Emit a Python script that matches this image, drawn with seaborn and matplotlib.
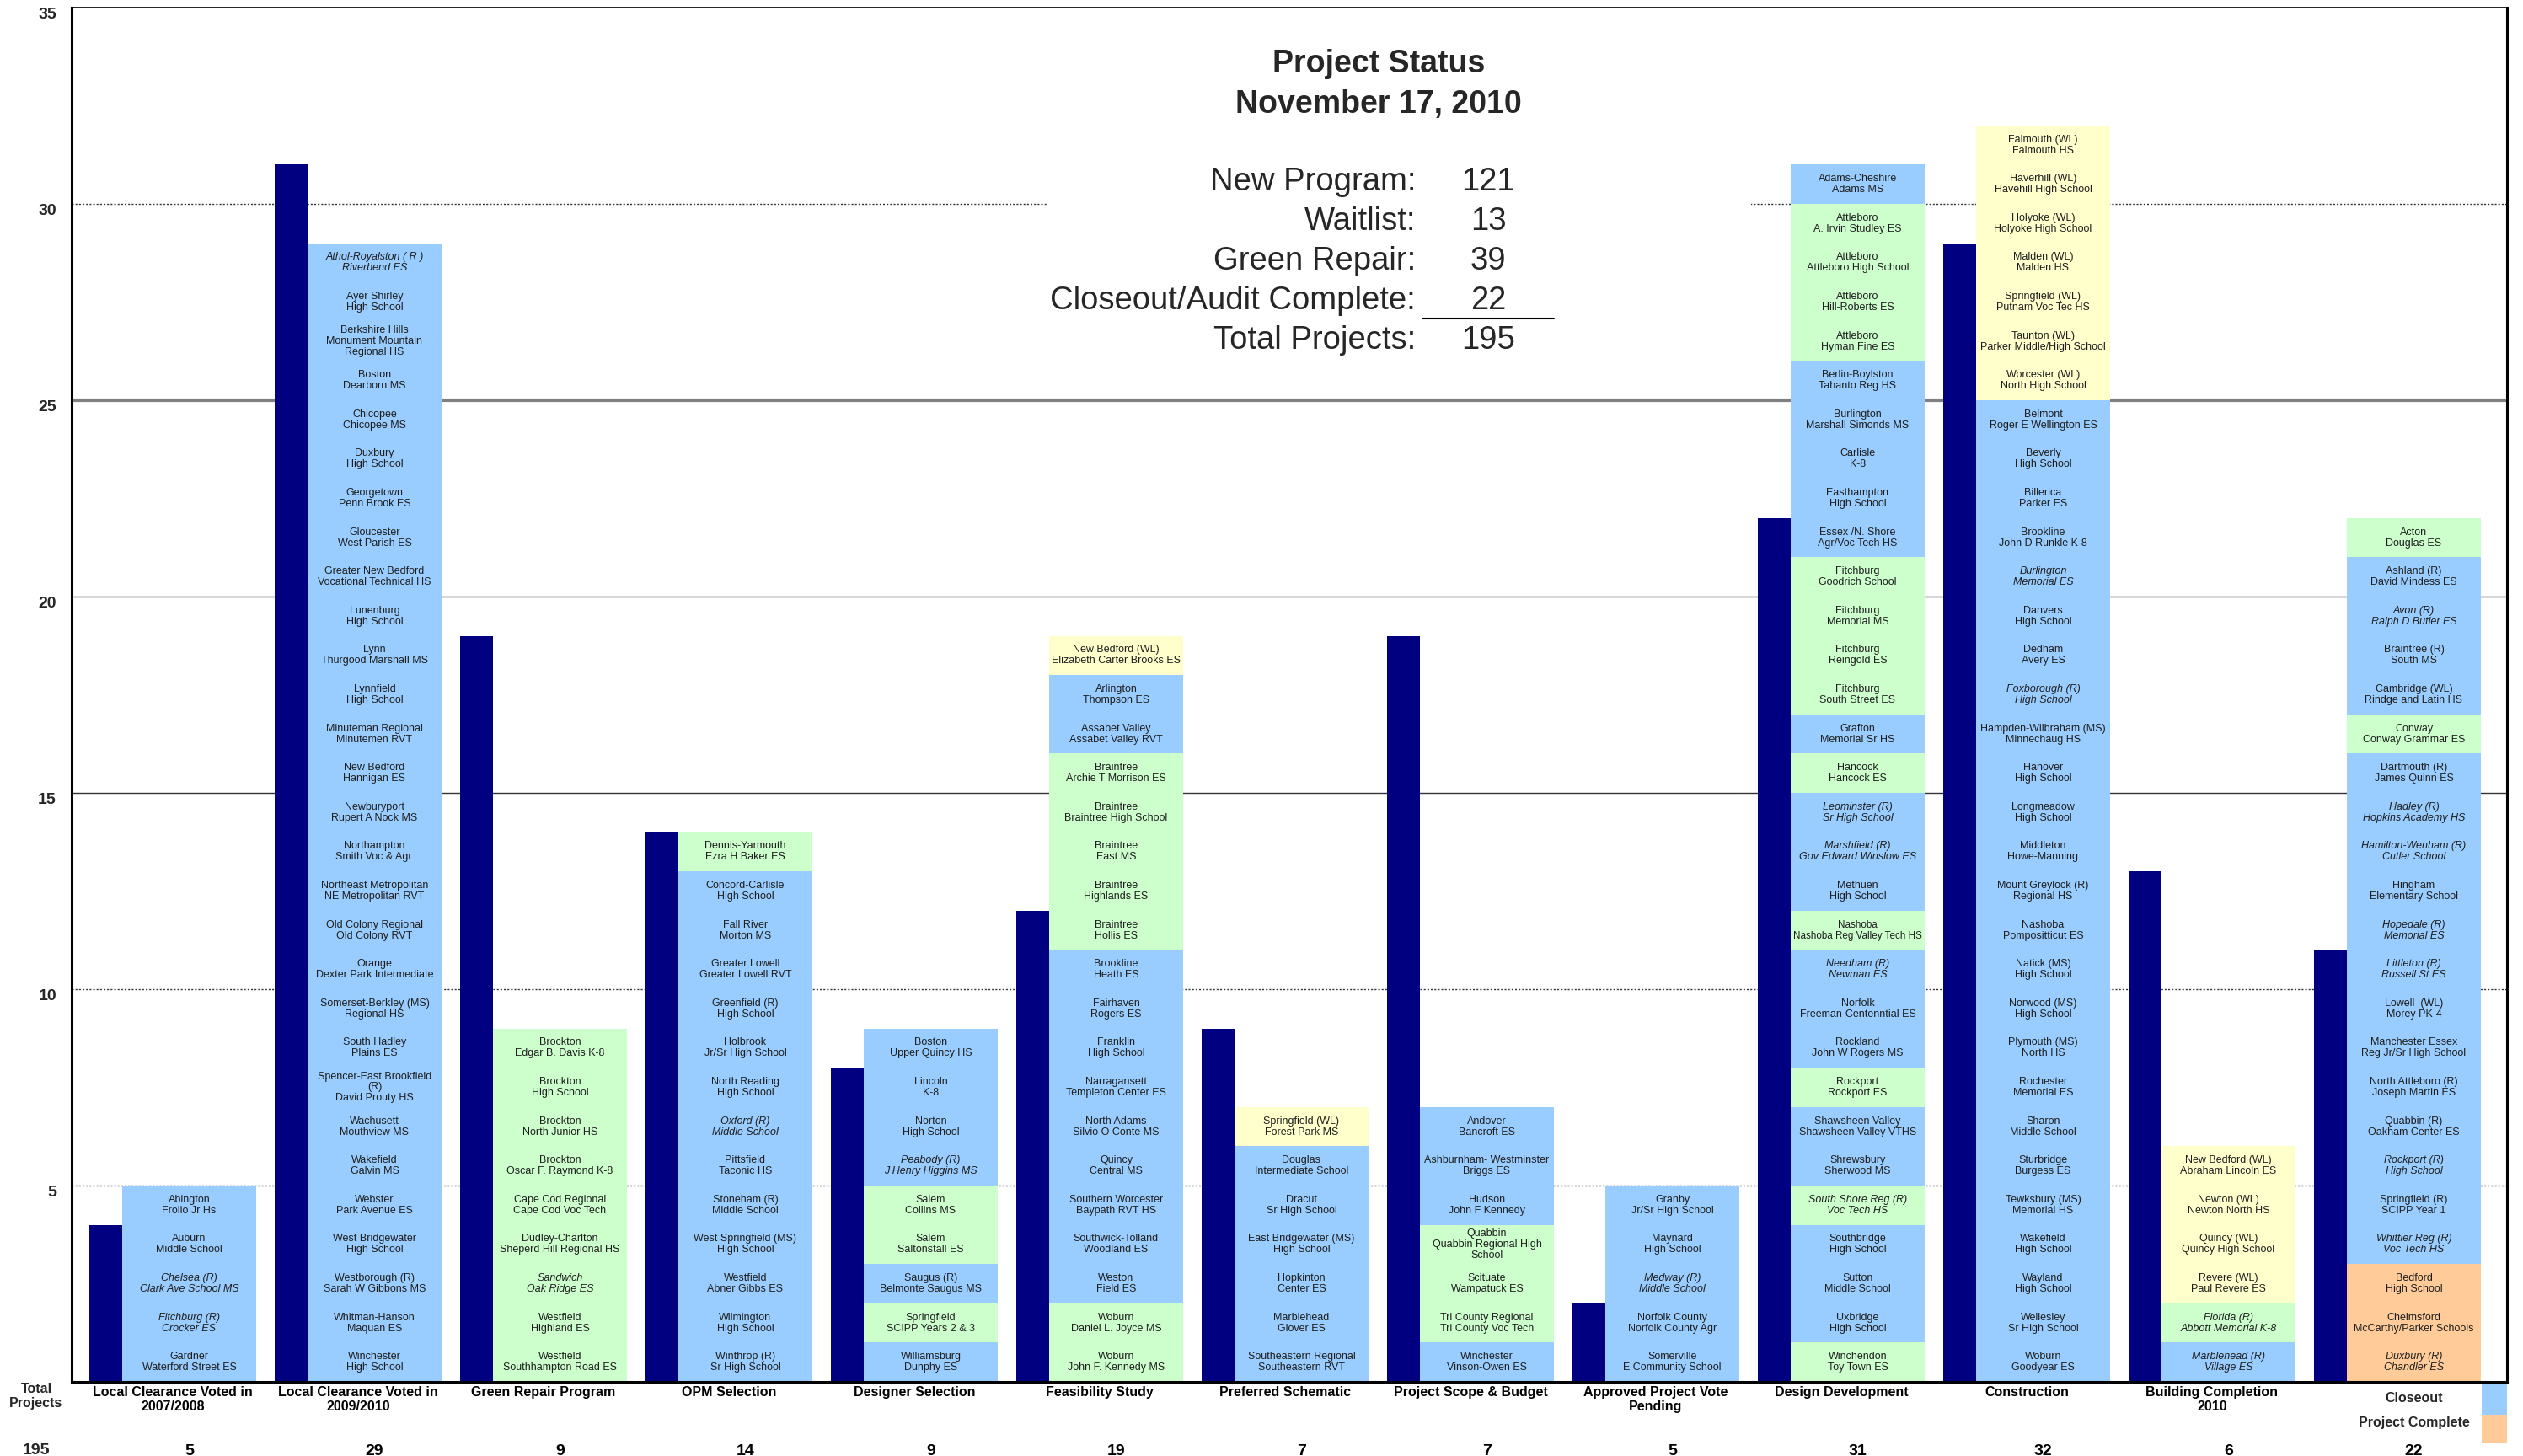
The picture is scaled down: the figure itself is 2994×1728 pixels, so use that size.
import numpy as np
import matplotlib
matplotlib.use("Agg")
import matplotlib.pyplot as plt
from matplotlib.patches import Rectangle
from matplotlib.lines import Line2D
import seaborn as sns

# stages along the bottom
stages = ["Local Clearance Voted in\n2007/2008", "Local Clearance Voted in\n2009/2010",
          "Green Repair Program", "OPM Selection", "Designer Selection",
          "Feasibility Study", "Preferred Schematic", "Project Scope & Budget",
          "Approved Project Vote\nPending", "Design Development", "Construction",
          "Building Completion\n2010", "Closeout"]

# dark bars (count per stage, previous report)
prior_counts = [4, 31, 19, 14, 8, 12, 9, 19, 2, 22, 29, 13, 11]

# projects in each stage, top of the stack first; leading '*' = italic
local_0708 = ["Abington\nFrolio Jr Hs", "Auburn\nMiddle School", "*Chelsea (R)\nClark Ave School MS",
              "*Fitchburg (R)\nCrocker ES", "Gardner\nWaterford Street ES"]
local_0910 = ["*Athol-Royalston ( R )\nRiverbend ES", "Ayer Shirley\nHigh School",
              "Berkshire Hills\nMonument Mountain\nRegional HS", "Boston\nDearborn MS",
              "Chicopee\nChicopee MS", "Duxbury\nHigh School", "Georgetown\nPenn Brook ES",
              "Gloucester\nWest Parish ES", "Greater New Bedford\nVocational Technical HS",
              "Lunenburg\nHigh School", "Lynn\nThurgood Marshall MS", "Lynnfield\nHigh School",
              "Minuteman Regional\nMinutemen RVT", "New Bedford\nHannigan ES",
              "Newburyport\nRupert A Nock MS", "Northampton\nSmith Voc & Agr.",
              "Northeast Metropolitan\nNE Metropolitan RVT", "Old Colony Regional\nOld Colony RVT",
              "Orange\nDexter Park Intermediate", "Somerset-Berkley (MS)\nRegional HS",
              "South Hadley\nPlains ES", "Spencer-East Brookfield\n(R)\nDavid Prouty HS",
              "Wachusett\nMouthview MS", "Wakefield\nGalvin MS", "Webster\nPark Avenue ES",
              "West Bridgewater\nHigh School", "Westborough (R)\nSarah W Gibbons MS",
              "Whitman-Hanson\nMaquan ES", "Winchester\nHigh School"]
green_repair = ["Brockton\nEdgar B. Davis K-8", "Brockton\nHigh School", "Brockton\nNorth Junior HS",
                "Brockton\nOscar F. Raymond K-8", "Cape Cod Regional\nCape Cod Voc Tech",
                "Dudley-Charlton\nSheperd Hill Regional HS", "*Sandwich\nOak Ridge ES",
                "Westfield\nHighland ES", "Westfield\nSouthhampton Road ES"]
opm = ["Dennis-Yarmouth\nEzra H Baker ES", "Concord-Carlisle\nHigh School", "Fall River\nMorton MS",
       "Greater Lowell\nGreater Lowell RVT", "Greenfield (R)\nHigh School", "Holbrook\nJr/Sr High School",
       "North Reading\nHigh School", "*Oxford (R)\nMiddle School", "Pittsfield\nTaconic HS",
       "Stoneham (R)\nMiddle School", "West Springfield (MS)\nHigh School", "Westfield\nAbner Gibbs ES",
       "Wilmington\nHigh School", "Winthrop (R)\nSr High School"]
designer = ["Boston\nUpper Quincy HS", "Lincoln\nK-8", "Norton\nHigh School",
            "*Peabody (R)\nJ Henry Higgins MS", "Salem\nCollins MS", "Salem\nSaltonstall ES",
            "Saugus (R)\nBelmonte Saugus MS", "Springfield\nSCIPP Years 2 & 3", "Williamsburg\nDunphy ES"]
feasibility = ["New Bedford (WL)\nElizabeth Carter Brooks ES", "Arlington\nThompson ES",
               "Assabet Valley\nAssabet Valley RVT", "Braintree\nArchie T Morrison ES",
               "Braintree\nBraintree High School", "Braintree\nEast MS", "Braintree\nHighlands ES",
               "Braintree\nHollis ES", "Brookline\nHeath ES", "Fairhaven\nRogers ES",
               "Franklin\nHigh School", "Narragansett\nTempleton Center ES",
               "North Adams\nSilvio O Conte MS", "Quincy\nCentral MS",
               "Southern Worcester\nBaypath RVT HS", "Southwick-Tolland\nWoodland ES",
               "Weston\nField ES", "Woburn\nDaniel L. Joyce MS", "Woburn\nJohn F. Kennedy MS"]
schematic = ["Springfield (WL)\nForest Park MS", "Douglas\nIntermediate School", "Dracut\nSr High School",
             "East Bridgewater (MS)\nHigh School", "Hopkinton\nCenter ES", "Marblehead\nGlover ES",
             "Southeastern Regional\nSoutheastern RVT"]
scope_budget = ["Andover\nBancroft ES", "Ashburnham- Westminster\nBriggs ES", "Hudson\nJohn F Kennedy",
                "Quabbin\nQuabbin Regional High\nSchool", "Scituate\nWampatuck ES",
                "Tri County Regional\nTri County Voc Tech", "Winchester\nVinson-Owen ES"]
vote_pending = ["Granby\nJr/Sr High School", "Maynard\nHigh School", "*Medway (R)\nMiddle School",
                "Norfolk County\nNorfolk County Agr", "Somerville\nE Community School"]
design_dev = ["Adams-Cheshire\nAdams MS", "Attleboro\nA. Irvin Studley ES", "Attleboro\nAttleboro High School",
              "Attleboro\nHill-Roberts ES", "Attleboro\nHyman Fine ES", "Berlin-Boylston\nTahanto Reg HS",
              "Burlington\nMarshall Simonds MS", "Carlisle\nK-8", "Easthampton\nHigh School",
              "Essex /N. Shore\nAgr/Voc Tech HS", "Fitchburg\nGoodrich School", "Fitchburg\nMemorial MS",
              "Fitchburg\nReingold ES", "Fitchburg\nSouth Street ES", "Grafton\nMemorial Sr HS",
              "Hancock\nHancock ES", "*Leominster (R)\nSr High School", "*Marshfield (R)\nGov Edward Winslow ES",
              "Methuen\nHigh School", "Nashoba\nNashoba Reg Valley Tech HS", "*Needham (R)\nNewman ES",
              "Norfolk\nFreeman-Centenntial ES", "Rockland\nJohn W Rogers MS", "Rockport\nRockport ES",
              "Shawsheen Valley\nShawsheen Valley VTHS", "Shrewsbury\nSherwood MS",
              "*South Shore Reg (R)\nVoc Tech HS", "Southbridge\nHigh School", "Sutton\nMiddle School",
              "Uxbridge\nHigh School", "Winchendon\nToy Town ES"]
construction = ["Falmouth (WL)\nFalmouth HS", "Haverhill (WL)\nHavehill High School",
                "Holyoke (WL)\nHolyoke High School", "Malden (WL)\nMalden HS",
                "Springfield (WL)\nPutnam Voc Tec HS", "Taunton (WL)\nParker Middle/High School",
                "Worcester (WL)\nNorth High School", "Belmont\nRoger E Wellington ES", "Beverly\nHigh School",
                "Billerica\nParker ES", "Brookline\nJohn D Runkle K-8", "*Burlington\nMemorial ES",
                "Danvers\nHigh School", "Dedham\nAvery ES", "*Foxborough (R)\nHigh School",
                "Hampden-Wilbraham (MS)\nMinnechaug HS", "Hanover\nHigh School", "Longmeadow\nHigh School",
                "Middleton\nHowe-Manning", "Mount Greylock (R)\nRegional HS", "Nashoba\nPompositticut ES",
                "Natick (MS)\nHigh School", "Norwood (MS)\nHigh School", "Plymouth (MS)\nNorth HS",
                "Rochester\nMemorial ES", "Sharon\nMiddle School", "Sturbridge\nBurgess ES",
                "Tewksbury (MS)\nMemorial HS", "Wakefield\nHigh School", "Wayland\nHigh School",
                "Wellesley\nSr High School", "Woburn\nGoodyear ES"]
completion_2010 = ["New Bedford (WL)\nAbraham Lincoln ES", "Newton (WL)\nNewton North HS",
                   "Quincy (WL)\nQuincy High School", "Revere (WL)\nPaul Revere ES",
                   "*Florida (R)\nAbbott Memorial K-8", "*Marblehead (R)\nVillage ES"]
closeout = ["Acton\nDouglas ES", "Ashland (R)\nDavid Mindess ES", "*Avon (R)\nRalph D Butler ES",
            "Braintree (R)\nSouth MS", "Cambridge (WL)\nRindge and Latin HS", "Conway\nConway Grammar ES",
            "Dartmouth (R)\nJames Quinn ES", "*Hadley (R)\nHopkins Academy HS",
            "*Hamilton-Wenham (R)\nCutler School", "Hingham\nElementary School",
            "*Hopedale (R)\nMemorial ES", "*Littleton (R)\nRussell St ES", "Lowell  (WL)\nMorey PK-4",
            "Manchester Essex\nReg Jr/Sr High School", "North Attleboro (R)\nJoseph Martin ES",
            "Quabbin (R)\nOakham Center ES", "*Rockport (R)\nHigh School", "Springfield (R)\nSCIPP Year 1",
            "*Whittier Reg (R)\nVoc Tech HS", "Bedford\nHigh School", "Chelmsford\nMcCarthy/Parker Schools",
            "*Duxbury (R)\nChandler ES"]

# status of each project (same order): N new program, G green repair, W waitlist, C closeout/audit complete
s_0708 = "NNNNN"
s_0910 = "NNNNNNNNNN" "NNNNNNNNNN" "NNNNNNNNN"
s_green = "GGGGGGGGG"
s_opm = "GNNNNNNNNNNNNN"
s_designer = "NNNNGGNGN"
s_feas = "WNNGGGGGNNNNNNNNNGG"
s_schem = "WNNNNNN"
s_scope = "NNNGGGN"
s_vote = "NNNNN"
s_dd = "NGGGGNNNNNGGGGNGNNNGNNNGNNGNNNG"
s_constr = "WWWWWWW" "NNNNNNNNNNNNNNNNNNNNNNNNN"
s_compl = "WWWWGN"
s_close = "GNNNNGNNNNNNNNNNNNNCCC"

projects = [local_0708, local_0910, green_repair, opm, designer, feasibility, schematic,
            scope_budget, vote_pending, design_dev, construction, completion_2010, closeout]
status = [s_0708, s_0910, s_green, s_opm, s_designer, s_feas, s_schem, s_scope, s_vote,
          s_dd, s_constr, s_compl, s_close]

summary_labels = ["New Program:", "Waitlist:", "Green Repair:", "Closeout/Audit Complete:", "Total Projects:"]
summary_values = [121, 13, 39, 22, 195]

yticks = [5, 10, 15, 20, 25, 30, 35]

colors = {"N": "#99CCFF", "G": "#CCFFCC", "W": "#FFFFCC", "C": "#FFCC99"}

sns.set_theme(style="white")
plt.rcParams["font.family"] = ["Liberation Sans", "DejaVu Sans"]

W, H = 2994, 1728
fig = plt.figure(figsize=(W / 100, H / 100), dpi=100)
ax = fig.add_axes([85 / W, 88 / H, 2890 / W, 1631 / H])

DARK_W = 0.177
BOX_W = 0.723

# grid lines first (under everything)
for y in yticks[:-1]:
    if y == 25:
        ax.axhline(y, color="#808080", lw=3, zorder=0.5)
    elif y in (15, 20):
        ax.axhline(y, color="#333333", lw=1, zorder=0.5)
    else:
        ax.axhline(y, color="#333333", lw=1, ls=(0, (1.5, 1.5)), zorder=0.5)

# white box behind the summary text
ax.add_patch(Rectangle((5.164, 26.2), 3.8, 8.6, facecolor="white", edgecolor="none", zorder=0.8))

# dark bars
x_dark = np.arange(len(stages)) + DARK_W / 2
sns.barplot(x=x_dark, y=prior_counts, native_scale=True, width=DARK_W, orient="x",
            color="#000080", saturation=1, linewidth=0, errorbar=None, ax=ax, zorder=2)

# stacked project cells
cell_texts = []
for i, (names, codes) in enumerate(zip(projects, status)):
    n = len(names)
    xc = i + DARK_W + BOX_W / 2
    levels = np.arange(n)[::-1]
    ax.bar(np.full(n, xc), np.ones(n), width=BOX_W, bottom=levels,
           color=[colors[c] for c in codes], linewidth=0, zorder=2)
    for lvl, name in zip(levels, names):
        t = ax.text(xc, lvl + 0.5, name.lstrip("*"), ha="center", va="center",
                    fontsize=9, color="#1e1e1e", linespacing=1.1, zorder=3,
                    style="italic" if name.startswith("*") else "normal")
        cell_texts.append(t)

    # stage name and total underneath
    tx = ax.get_xaxis_transform()
    if i < len(stages) - 1:
        ax.text(i + 0.45, -0.003, stages[i], transform=tx, ha="center", va="top",
                fontsize=11.5, fontweight="bold", linespacing=1.15, color="black")
    ax.text(xc, -0.0503, str(n), transform=tx, ha="center", va="center",
            fontsize=14, fontweight="bold", color="black")

ax.set_xlim(-0.0955, 13.041)
ax.set_ylim(0, 35)
ax.set_xticks([])
ax.set_xlabel("")
ax.set_ylabel("")
ax.set_yticks(yticks)
ax.set_yticklabels([str(v) for v in yticks], fontsize=14, fontweight="bold", va="top")
ax.tick_params(axis="y", length=0, pad=13)
for side, sp in ax.spines.items():
    sp.set_visible(True)
    sp.set_color("black")
    sp.set_linewidth(1.2 if side == "top" else 2.2)
    sp.set_zorder(4)

# last stage label doubles as the legend
fig.text(2865 / W, 1 - 1660 / H, "Closeout", ha="center", va="center",
         fontsize=11.5, fontweight="bold")
fig.text(2865 / W, 1 - 1689 / H, "Project Complete", ha="center", va="center",
         fontsize=11.5, fontweight="bold")
fig.add_artist(Rectangle((2945 / W, 1 - 1679 / H), 30 / W, 37 / H, facecolor=colors["N"], edgecolor="none"))
fig.add_artist(Rectangle((2945 / W, 1 - 1712 / H), 30 / W, 33 / H, facecolor=colors["C"], edgecolor="none"))

fig.text(43 / W, 1 - 1641 / H, "Total\nProjects", ha="center", va="top",
         fontsize=11.5, fontweight="bold", linespacing=1.2)
fig.text(43 / W, 1 - 1722 / H, str(sum(len(p) for p in projects)), ha="center", va="center",
         fontsize=14, fontweight="bold")

# title and summary
fig.text(1636 / W, 1 - 76 / H, "Project Status", ha="center", va="center", fontsize=27, fontweight="bold")
fig.text(1636 / W, 1 - 124 / H, "November 17, 2010", ha="center", va="center", fontsize=27, fontweight="bold")
for k, (lab, val) in enumerate(zip(summary_labels, summary_values)):
    yy = 1 - (216 + k * 47) / H
    fig.text(1680 / W, yy, lab, ha="right", va="center", fontsize=27.5)
    fig.text(1766 / W, yy, str(val), ha="center", va="center", fontsize=27.5)
fig.add_artist(Line2D([1688 / W, 1844 / W], [1 - 378 / H, 1 - 378 / H], color="black", lw=1.5))

# shrink cell labels that are wider than their box
fig.canvas.draw()
rend = fig.canvas.get_renderer()
box_px = BOX_W * ax.bbox.width / (13.041 + 0.0955) - 6
for t in cell_texts:
    w = t.get_window_extent(rend).width
    if w > box_px:
        t.set_fontsize(t.get_fontsize() * box_px / w)

fig.savefig("out.png", dpi=100)
